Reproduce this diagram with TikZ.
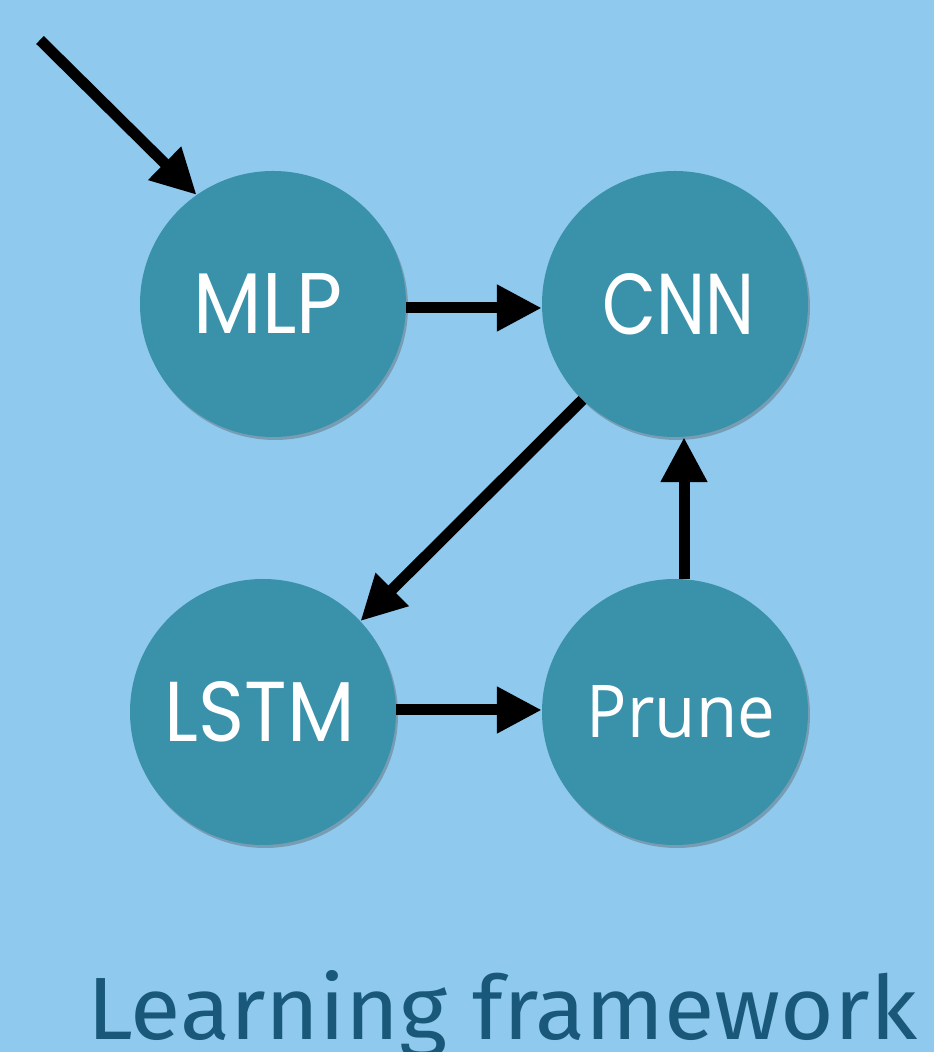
\documentclass[tikz,border=0pt]{standalone}
\usepackage{fontspec}
\setmainfont{Fira Sans}
\newfontfamily\geofont{Poppins}
\newfontfamily\pruneFont{Open Sans}
\newfontfamily\titlefont{Fira Sans}
\usetikzlibrary{arrows.meta,shadows}
\definecolor{bgblue}{HTML}{8FC9EE}
\definecolor{ballteal}{HTML}{3A91AA}
\definecolor{titleblue}{HTML}{195878}
\newcommand{\balltext}[4]{\kern#1pt\resizebox{#2pt}{#3pt}{#4}\kern-#1pt}
\tikzset{
  ball/.style={circle, fill=ballteal, minimum size=266pt, inner sep=0pt, text=white,
    drop shadow={shadow xshift=2pt, shadow yshift=-3pt, opacity=0.35, fill=black!70}},
  flow/.style={line width=11pt, -{Triangle[length=45pt,width=44pt]}, black},
}
\begin{document}
\begin{tikzpicture}[x=1pt,y=1pt]
\fill[bgblue] (0,0) rectangle (934,1052);
\useasboundingbox (0,0) rectangle (934,1052);
\node[ball] (mlp) at (273,748) {\balltext{-5}{149}{60}{\geofont MLP}};
\node[ball] (cnn) at (675,748) {\balltext{4}{152}{61}{\geofont CNN}};
\node[ball] (lstm) at (263,340) {\balltext{-3}{190}{60}{\geofont LSTM}};
\node[ball] (prune) at (675,340) {\balltext{6}{188}{52}{\pruneFont Prune}};
\coordinate (start) at (40,1012);
\draw[flow] (start) -- (mlp.125);
\draw[flow] ([yshift=-4pt]mlp.east) -- ([yshift=-4pt]cnn.west);
\draw[flow] (cnn.226) -- (lstm.43);
\draw[flow] ([yshift=2pt]lstm.east) -- ([yshift=2pt]prune.west);
\draw[flow] ([xshift=9pt]prune.north) -- ([xshift=9pt]cnn.south);
\node[anchor=base west, inner sep=0pt, text=titleblue] (title) at (87,13) {\resizebox{830pt}{69pt}{\titlefont Learning framework}};
\end{tikzpicture}
\end{document}
